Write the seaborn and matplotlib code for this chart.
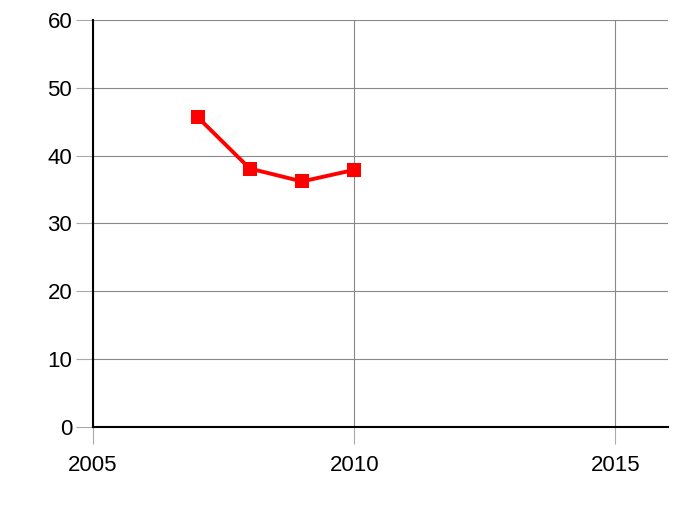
import pandas as pd
import matplotlib
matplotlib.use("Agg")
import matplotlib.pyplot as plt
import seaborn as sns

# --- dati ---
anni = [2007, 2008, 2009, 2010]
valori = [45.7, 38.1, 36.2, 37.9]

df = pd.DataFrame({"anno": anni, "valore": valori})

sns.set_style("white")
plt.rcParams['font.family'] = ['Liberation Sans', 'DejaVu Sans']

fig = plt.figure(figsize=(6.85, 5.12), dpi=100)
ax = fig.add_axes([0.1358, 0.166, 0.839, 0.795])

sns.lineplot(data=df, x="anno", y="valore", ax=ax, color="#ff0000",
             marker="s", markersize=10, markeredgewidth=0, linewidth=2.8)

ax.set_xlim(2005, 2016)
ax.set_ylim(0, 60)
ax.set_xticks([2005, 2010, 2015])
ax.set_yticks(range(0, 61, 10))
ax.set_xlabel("")
ax.set_ylabel("")

ax.grid(True, color="#888888", linewidth=0.8)
ax.set_axisbelow(True)
for s in ["top", "right"]:
    ax.spines[s].set_visible(False)
for s in ["left", "bottom"]:
    ax.spines[s].set_color("black")
    ax.spines[s].set_linewidth(1.5)

# tacche grigie verso l'esterno
ax.tick_params(axis="both", bottom=True, left=True, length=12, width=0.8,
               color="#aaaaaa", labelsize=16, labelcolor="black", direction="out")
ax.tick_params(axis="x", pad=8)
ax.tick_params(axis="y", pad=3)

plt.savefig("out.png", dpi=100)
